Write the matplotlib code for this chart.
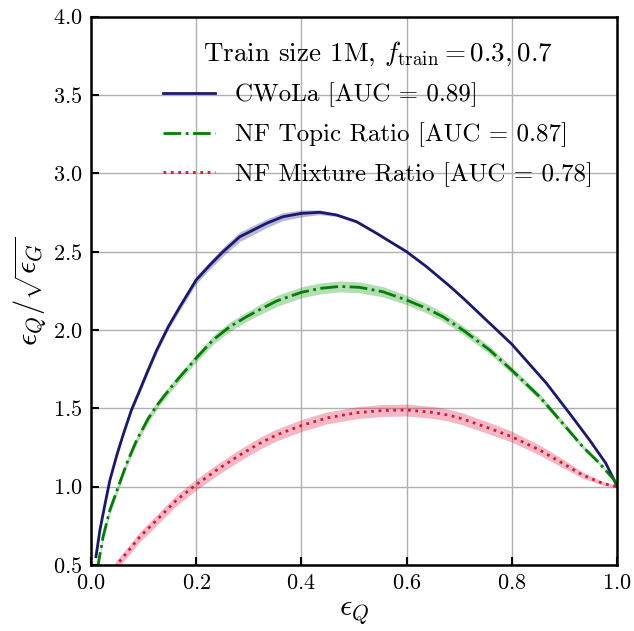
import numpy as np
import matplotlib
matplotlib.use('Agg')
import matplotlib.pyplot as plt

plt.rcParams['font.family'] = 'serif'
plt.rcParams['font.serif'] = ['cmr10', 'DejaVu Serif']
plt.rcParams['mathtext.fontset'] = 'cm'
plt.rcParams['axes.formatter.use_mathtext'] = True
plt.rcParams['axes.unicode_minus'] = False

# values
cwola_x = [0.0095, 0.017, 0.027, 0.036, 0.049, 0.061, 0.077, 0.093, 0.106, 0.125, 0.147, 0.169,
           0.2, 0.226, 0.251, 0.283, 0.302, 0.334, 0.365, 0.400, 0.435, 0.467, 0.505, 0.543,
           0.574, 0.600, 0.638, 0.682, 0.707, 0.800, 0.866, 0.910, 0.948, 0.979, 0.998, 1.0]
cwola_y = [0.553, 0.723, 0.894, 1.042, 1.20, 1.33, 1.49, 1.617, 1.723, 1.872, 2.021, 2.148,
           2.319, 2.414, 2.499, 2.595, 2.627, 2.681, 2.723, 2.744, 2.751, 2.734, 2.691, 2.617,
           2.553, 2.5, 2.404, 2.28, 2.205, 1.91, 1.66, 1.468, 1.298, 1.149, 1.02, 1.0]
cwola_err = [0.004, 0.006, 0.008, 0.01, 0.012, 0.015, 0.015, 0.018, 0.02, 0.02, 0.02, 0.022,
             0.025, 0.025, 0.028, 0.03, 0.03, 0.028, 0.025, 0.022, 0.015, 0.01, 0.008, 0.006,
             0.006, 0.006, 0.006, 0.006, 0.006, 0.006, 0.005, 0.005, 0.004, 0.004, 0.003, 0.003]

topic_x = [0.012, 0.014, 0.023, 0.036, 0.052, 0.068, 0.087, 0.109, 0.128, 0.150, 0.169, 0.2,
           0.232, 0.264, 0.296, 0.321, 0.353, 0.400, 0.435, 0.473, 0.511, 0.555, 0.600, 0.638,
           0.669, 0.707, 0.758, 0.800, 0.853, 0.897, 0.935, 0.967, 0.995, 1.0]
topic_y = [0.47, 0.51, 0.68, 0.851, 1.0, 1.149, 1.298, 1.436, 1.53, 1.625, 1.70, 1.82,
           1.936, 2.021, 2.085, 2.13, 2.185, 2.24, 2.265, 2.278, 2.272, 2.244, 2.191, 2.138,
           2.085, 2.0, 1.872, 1.744, 1.574, 1.404, 1.255, 1.149, 1.042, 1.0]
topic_err = [0.02, 0.02, 0.022, 0.025, 0.025, 0.025, 0.025, 0.025, 0.025, 0.025, 0.025, 0.025,
             0.028, 0.03, 0.03, 0.032, 0.035, 0.035, 0.035, 0.035, 0.035, 0.033, 0.03, 0.03,
             0.028, 0.027, 0.025, 0.022, 0.02, 0.018, 0.014, 0.01, 0.005, 0.004]

mix_x = [0.045, 0.054, 0.093, 0.125, 0.163, 0.199, 0.239, 0.283, 0.321, 0.353, 0.400, 0.448,
         0.505, 0.555, 0.600, 0.650, 0.682, 0.707, 0.758, 0.800, 0.853, 0.897, 0.935, 0.973, 1.0]
mix_y = [0.485, 0.521, 0.68, 0.787, 0.915, 1.01, 1.106, 1.202, 1.277, 1.33, 1.39, 1.438,
         1.472, 1.486, 1.489, 1.474, 1.455, 1.432, 1.372, 1.319, 1.234, 1.149, 1.074, 1.021, 1.0]
mix_err = [0.03, 0.03, 0.032, 0.034, 0.035, 0.035, 0.036, 0.037, 0.038, 0.038, 0.038, 0.038,
           0.038, 0.038, 0.038, 0.038, 0.038, 0.038, 0.037, 0.035, 0.032, 0.028, 0.02, 0.012, 0.005]

labels = ['CWoLa [AUC = 0.89]', 'NF Topic Ratio [AUC = 0.87]', 'NF Mixture Ratio [AUC = 0.78]']

fig = plt.figure(figsize=(6.34, 6.31), dpi=100)
ax = fig.add_axes([0.1435, 0.1046, 0.8295, 0.8691])

ax.fill_between(cwola_x, np.array(cwola_y) - cwola_err, np.array(cwola_y) + cwola_err,
                color='midnightblue', alpha=0.3, lw=0)
ax.fill_between(topic_x, np.array(topic_y) - topic_err, np.array(topic_y) + topic_err,
                color='#2ca02c', alpha=0.35, lw=0)
ax.fill_between(mix_x, np.array(mix_y) - mix_err, np.array(mix_y) + mix_err,
                color='crimson', alpha=0.3, lw=0)

ax.plot(cwola_x, cwola_y, color='midnightblue', lw=2, label=labels[0])
ax.plot(topic_x, topic_y, color='green', lw=2, ls='-.', label=labels[1])
ax.plot(mix_x, mix_y, color='crimson', lw=2, ls=':', label=labels[2])

ax.set_xlim(0, 1)
ax.set_ylim(0.5, 4.0)
ax.set_xticks([0.0, 0.2, 0.4, 0.6, 0.8, 1.0])
ax.set_yticks([0.5, 1.0, 1.5, 2.0, 2.5, 3.0, 3.5, 4.0])
ax.grid(color='#b0b0b0', lw=1)
ax.set_axisbelow(True)
ax.tick_params(direction='in', length=6, width=1.5, labelsize=16, pad=6)
for s in ax.spines.values():
    s.set_linewidth(1.8)

ax.set_xlabel(r'$\epsilon_Q$', fontsize=22)
ax.set_ylabel(r'$\epsilon_Q/\sqrt{\epsilon_G}$', fontsize=22)

leg = ax.legend(title=r'Train size 1M, $f_{\rm train} = 0.3, 0.7$', frameon=False,
                loc='upper right', bbox_to_anchor=(0.998, 1.0), fontsize=18,
                title_fontsize=19.5, handlelength=2.1, handletextpad=0.8, labelspacing=0.6)

fig.savefig('out.png', dpi=100)
